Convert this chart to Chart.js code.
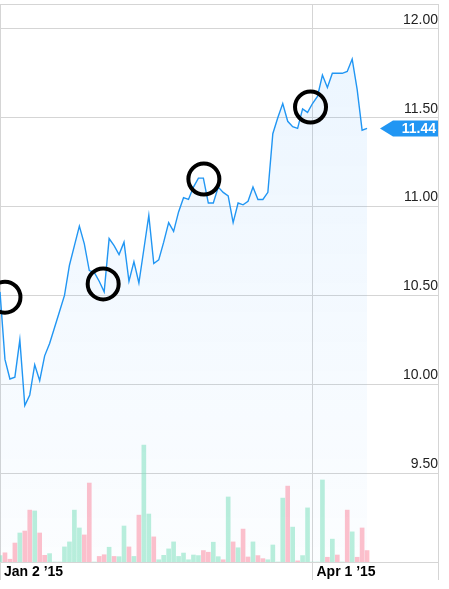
<!DOCTYPE html>
<html>
<head>
<meta charset="utf-8">
<script src="https://cdn.jsdelivr.net/npm/chart.js@4.4.1/dist/chart.umd.min.js"></script>
<style>
  html, body { margin: 0; padding: 0; background: #fff; }
  #chart { display: block; }
</style>
</head>
<body>
<canvas id="chart" width="449" height="589"></canvas>
<script>
// Daily closes, one per trading day, starting Jan 2 '15
const closes = [
  10.52, 10.14, 10.03, 10.04, 10.25, 9.88, 9.94, 10.11, 10.02, 10.16,
  10.23, 10.32, 10.41, 10.50, 10.67, 10.78, 10.89, 10.79, 10.64, 10.63,
  10.58, 10.52, 10.82, 10.78, 10.73, 10.80, 10.58, 10.69, 10.57, 10.76,
  10.95, 10.68, 10.70, 10.80, 10.91, 10.86, 10.97, 11.05, 11.04, 11.11,
  11.16, 11.16, 11.02, 11.02, 11.11, 11.08, 11.06, 10.91, 11.02, 11.01,
  11.03, 11.11, 11.04, 11.04, 11.08, 11.41, 11.50, 11.58, 11.48, 11.45,
  11.44, 11.55, 11.53, 11.58, 11.62, 11.74, 11.67, 11.75, 11.75, 11.75,
  11.76, 11.83, 11.66, 11.43, 11.44
];

// Volume in millions of shares
const volumes = [
  0.23, 0.33, 0.10, 0.68, 1.04, 1.11, 1.86, 1.83, 1.04, 0.24,
  0.30, 0, 0, 0.54, 0.72, 1.86, 1.22, 0.97, 2.83, 0,
  0.20, 0.26, 0.53, 0.20, 0.19, 1.29, 0.54, 0.20, 1.68, 4.19,
  1.72, 0.90, 0.08, 0.24, 0.47, 0.72, 0.20, 0.32, 0.08, 0.25,
  0.23, 0.41, 0.35, 0.71, 0.19, 0.08, 2.33, 0.72, 0.51, 1.18,
  0.18, 0.72, 0.23, 0.12, 0.08, 0.61, 0, 2.29, 2.72, 1.25,
  0.04, 0.23, 1.94, 0, 0, 2.94, 0.17, 0.82, 0.25, 0,
  1.86, 1.08, 0.17, 1.22, 0.41
];

// u = up day (green volume), d = down day (pink volume)
const volumeSide = [
  'u','d','d','d','u','d','d','u','d','d',
  'u','u','u','u','u','u','u','d','d','u',
  'd','d','u','d','u','u','d','u','d','u',
  'u','d','u','u','u','u','u','u','u','u',
  'u','d','d','u','u','d','u','d','u','d',
  'd','u','d','d','u','u','u','u','d','u',
  'd','u','u','u','u','u','d','u','d','u',
  'd','u','d','d','d'
];

// Circled event markers (day index, price)
const markerDays = [1.0, 20.8, 41.1, 62.6];
const markerPrices = [10.49, 10.565, 11.155, 11.56];

// Axis ticks
const tickDays = [0, 63];
const tickLabels = ["Jan 2 \u201915", "Apr 1 \u201915"];
const priceTicks = [9.5, 10, 10.5, 11, 11.5, 12];
const priceTickLabels = ['9.50', '10.00', '10.50', '11.00', '11.50', '12.00'];

const X_MAX = 88.3;
const Y_MIN = 9.0;
const Y_MAX = 12.14;
const GRID = '#d5d5d5';
const BLUE = '#2196f3';

Chart.defaults.font.family = '"Liberation Sans", Arial, sans-serif';

// Blue tag with the last close on the right edge
const lastTag = {
  id: 'lastTag',
  afterDatasetsDraw(chart) {
    const ctx = chart.ctx;
    const last = closes[closes.length - 1];
    const y = chart.scales.y.getPixelForValue(last);
    const right = chart.chartArea.right;
    ctx.save();
    ctx.fillStyle = BLUE;
    ctx.beginPath();
    ctx.moveTo(right - 58, y);
    ctx.lineTo(right - 45, y - 8);
    ctx.lineTo(right, y - 8);
    ctx.lineTo(right, y + 8);
    ctx.lineTo(right - 45, y + 8);
    ctx.closePath();
    ctx.fill();
    ctx.fillStyle = '#fff';
    ctx.font = 'bold 14px "Liberation Sans", Arial, sans-serif';
    ctx.textAlign = 'right';
    ctx.textBaseline = 'middle';
    ctx.fillText(last.toFixed(2), right - 2, y + 1);
    ctx.restore();
  }
};

new Chart(document.getElementById('chart'), {
  type: 'line',
  data: {
    datasets: [
      {
        label: 'Events',
        data: markerDays.map((d, i) => ({ x: d, y: markerPrices[i] })),
        showLine: false,
        pointRadius: 15.5,
        pointBorderWidth: 4,
        pointBorderColor: '#000',
        pointBackgroundColor: 'rgba(0,0,0,0)',
        clip: false,
        order: 0
      },
      {
        label: 'Close',
        data: closes.map((v, i) => ({ x: i, y: v })),
        borderColor: BLUE,
        borderWidth: 1.4,
        pointRadius: 0,
        tension: 0,
        fill: 'start',
        backgroundColor(context) {
          const { ctx, chartArea } = context.chart;
          if (!chartArea) return 'rgba(30,144,255,0.06)';
          const g = ctx.createLinearGradient(0, chartArea.top, 0, chartArea.bottom);
          g.addColorStop(0, 'rgba(30,144,255,0.09)');
          g.addColorStop(1, 'rgba(30,144,255,0.015)');
          return g;
        },
        order: 1
      },
      {
        type: 'bar',
        label: 'Volume',
        yAxisID: 'y2',
        data: volumes.map((v, i) => ({ x: i, y: v })),
        backgroundColor: volumeSide.map(s => s === 'u' ? 'rgba(130,225,190,0.55)' : 'rgba(255,140,160,0.55)'),
        borderWidth: 0,
        barThickness: 4,
        order: 2
      }
    ]
  },
  options: {
    responsive: false,
    animation: false,
    events: [],
    layout: { autoPadding: false, padding: { top: 4, right: 0, bottom: 9, left: 0 } },
    plugins: { legend: { display: false }, tooltip: { enabled: false } },
    scales: {
      x: {
        type: 'linear',
        min: 0,
        max: X_MAX,
        offset: false,
        afterBuildTicks: s => { s.ticks = tickDays.concat([X_MAX]).map(v => ({ value: v })); },
        afterFit: s => { s.height = 18; s.paddingLeft = 0; s.paddingRight = 0; },
        grid: { color: GRID, drawTicks: true, tickLength: 18, tickColor: GRID, offset: false },
        border: { display: true, color: GRID },
        ticks: {
          align: 'start',
          padding: -16,
          labelOffset: 4,
          autoSkip: false,
          maxRotation: 0,
          color: '#000',
          font: { size: 14, weight: 'bold' },
          callback: (v, i) => tickLabels[i] || ''
        }
      },
      y: {
        position: 'right',
        min: Y_MIN,
        max: Y_MAX,
        afterBuildTicks: s => { s.ticks = priceTicks.concat([Y_MAX]).map(v => ({ value: v })); },
        afterFit: s => { s.width = 11; s.paddingTop = 0; s.paddingBottom = 0; },
        grid: { color: GRID, drawTicks: false },
        border: { display: false },
        ticks: {
          mirror: true,
          padding: 0,
          labelOffset: -9,
          color: '#222',
          font: { size: 14 },
          callback: (v, i) => priceTickLabels[i] || ''
        }
      },
      y2: {
        display: false,
        min: 0,
        max: 20
      }
    }
  },
  plugins: [lastTag]
});
</script>
</body>
</html>
